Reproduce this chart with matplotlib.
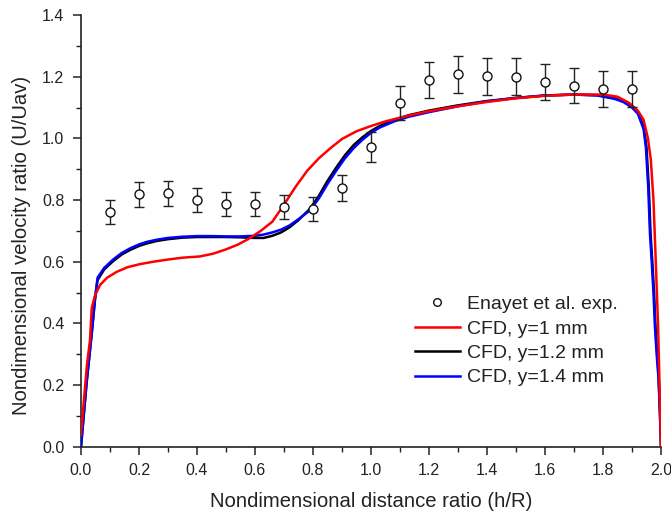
import matplotlib
matplotlib.use("Agg")
import matplotlib.pyplot as plt
from matplotlib.lines import Line2D
from matplotlib.ticker import MultipleLocator, FormatStrFormatter

plt.rcParams["font.family"] = ["Liberation Sans", "DejaVu Sans"]

# Experimental data (Enayet et al.)
exp_x = [0.1, 0.2, 0.3, 0.4, 0.5, 0.6, 0.7, 0.8, 0.9, 1.0,
         1.1, 1.2, 1.3, 1.4, 1.5, 1.6, 1.7, 1.8, 1.9]
exp_y = [0.761, 0.818, 0.822, 0.800, 0.786, 0.786, 0.776, 0.770, 0.840, 0.972,
         1.115, 1.190, 1.208, 1.202, 1.199, 1.183, 1.171, 1.160, 1.159]
exp_err = [0.038, 0.041, 0.041, 0.040, 0.039, 0.039, 0.039, 0.039, 0.042, 0.049,
           0.056, 0.059, 0.060, 0.060, 0.060, 0.059, 0.058, 0.058, 0.058]

# CFD, y = 1 mm
cfd1_x = [0.0, 0.01, 0.02, 0.031, 0.037, 0.048, 0.066, 0.09, 0.123, 0.16,
          0.203, 0.25, 0.3, 0.35, 0.41, 0.456, 0.5, 0.54, 0.58, 0.62,
          0.66, 0.7, 0.74, 0.78, 0.82, 0.86, 0.9, 0.95, 1.0, 1.05,
          1.1, 1.15, 1.2, 1.3, 1.4, 1.5, 1.6, 1.7, 1.8, 1.85,
          1.89, 1.92, 1.94, 1.955, 1.965, 1.974, 1.982, 1.99, 1.995, 2.0]
cfd1_y = [0.04, 0.15, 0.26, 0.346, 0.449, 0.490, 0.525, 0.548, 0.567, 0.582,
          0.592, 0.600, 0.607, 0.613, 0.617, 0.626, 0.640, 0.655, 0.675, 0.700,
          0.730, 0.785, 0.843, 0.895, 0.935, 0.968, 0.998, 1.023, 1.040, 1.055,
          1.067, 1.078, 1.088, 1.104, 1.118, 1.130, 1.138, 1.142, 1.142, 1.135,
          1.115, 1.090, 1.060, 1.000, 0.930, 0.800, 0.600, 0.389, 0.200, 0.0]

# CFD, y = 1.2 mm
cfd12_x = [0.0, 0.019, 0.037, 0.048, 0.057, 0.08, 0.111, 0.14, 0.169, 0.2,
           0.226, 0.26, 0.3, 0.35, 0.4, 0.45, 0.5, 0.55, 0.6, 0.63,
           0.66, 0.69, 0.72, 0.75, 0.79, 0.82, 0.85, 0.88, 0.91, 0.94,
           0.97, 1.0, 1.03, 1.08, 1.13, 1.2, 1.3, 1.4, 1.5, 1.6,
           1.7, 1.78, 1.84, 1.87, 1.9, 1.92, 1.94, 1.95, 1.958, 1.964,
           1.97, 1.976, 1.981, 1.987, 1.992, 1.996, 2.0]
cfd12_y = [0.0, 0.205, 0.368, 0.476, 0.540, 0.575, 0.602, 0.623, 0.638, 0.651,
           0.659, 0.667, 0.673, 0.678, 0.680, 0.680, 0.680, 0.679, 0.677, 0.677,
           0.684, 0.695, 0.712, 0.735, 0.772, 0.813, 0.862, 0.905, 0.945, 0.978,
           1.003, 1.024, 1.040, 1.060, 1.075, 1.090, 1.107, 1.121, 1.131, 1.139,
           1.142, 1.140, 1.130, 1.120, 1.105, 1.085, 1.040, 0.970, 0.840, 0.690,
           0.600, 0.500, 0.390, 0.300, 0.227, 0.120, 0.0]

# CFD, y = 1.4 mm
cfd14_x = [0.0, 0.019, 0.037, 0.048, 0.057, 0.08, 0.111, 0.14, 0.169, 0.2,
           0.226, 0.26, 0.3, 0.35, 0.4, 0.45, 0.5, 0.55, 0.6, 0.63,
           0.66, 0.69, 0.72, 0.75, 0.79, 0.82, 0.85, 0.88, 0.91, 0.94,
           0.97, 1.0, 1.03, 1.08, 1.13, 1.2, 1.3, 1.4, 1.5, 1.6,
           1.7, 1.78, 1.84, 1.87, 1.9, 1.92, 1.94, 1.948, 1.956, 1.962,
           1.968, 1.974, 1.979, 1.985, 1.991, 1.996, 2.0]
cfd14_y = [0.0, 0.205, 0.368, 0.476, 0.548, 0.580, 0.607, 0.628, 0.643, 0.656,
           0.664, 0.671, 0.677, 0.681, 0.683, 0.683, 0.682, 0.682, 0.684, 0.688,
           0.695, 0.704, 0.718, 0.738, 0.767, 0.805, 0.852, 0.895, 0.935, 0.968,
           0.995, 1.018, 1.035, 1.055, 1.070, 1.085, 1.104, 1.120, 1.131, 1.139,
           1.142, 1.139, 1.128, 1.118, 1.100, 1.080, 1.030, 0.970, 0.840, 0.690,
           0.600, 0.500, 0.390, 0.300, 0.227, 0.120, 0.0]

x_ticks = [0.0, 0.2, 0.4, 0.6, 0.8, 1.0, 1.2, 1.4, 1.6, 1.8, 2.0]
y_ticks = [0.0, 0.2, 0.4, 0.6, 0.8, 1.0, 1.2, 1.4]

legend_labels = ["Enayet et al. exp.", "CFD, y=1 mm", "CFD, y=1.2 mm", "CFD, y=1.4 mm"]

text_color = "#222222"

fig = plt.figure(figsize=(6.71, 5.14), dpi=100)
ax = fig.add_axes([81 / 671, 1 - 446.7 / 514, 580 / 671, 431.7 / 514])

lw = 1.8
ax.plot(cfd12_x, cfd12_y, color="#000000", lw=lw, zorder=2)
ax.plot(cfd14_x, cfd14_y, color="#0000ff", lw=lw, zorder=3)
ax.plot(cfd1_x, cfd1_y, color="#ff0000", lw=lw, zorder=4)

ax.errorbar(exp_x, exp_y, yerr=exp_err, fmt="o", ms=6.5, mfc="white",
            mec="#111111", mew=1.0, ecolor="#222222", elinewidth=1.0,
            capsize=3.3, capthick=1.0, zorder=5)

ax.set_xlim(0, 2.0)
ax.set_ylim(0, 1.4)
ax.set_xticks(x_ticks)
ax.set_yticks(y_ticks)
ax.xaxis.set_major_formatter(FormatStrFormatter("%.1f"))
ax.yaxis.set_major_formatter(FormatStrFormatter("%.1f"))
ax.xaxis.set_minor_locator(MultipleLocator(0.1))
ax.yaxis.set_minor_locator(MultipleLocator(0.1))

for side in ("top", "right"):
    ax.spines[side].set_visible(False)
for side in ("left", "bottom"):
    ax.spines[side].set_linewidth(1.2)
    ax.spines[side].set_color("#222222")

ax.tick_params(which="major", direction="out", length=6, width=1.1,
               color="#222222", labelsize=11.5, labelcolor=text_color, pad=6)
ax.tick_params(which="minor", direction="out", length=3.5, width=1.0,
               color="#222222")

ax.set_xlabel("Nondimensional distance ratio (h/R)", fontsize=14.6,
              color=text_color, labelpad=10)
ax.set_ylabel("Nondimensional velocity ratio (U/Uav)", fontsize=14.6,
              color=text_color)
ax.yaxis.set_label_coords(-0.086, 0.467)

handles = [
    Line2D([], [], ls="none", marker="o", ms=5.5, mfc="white", mec="#111111", mew=1.0),
    Line2D([], [], color="#ff0000", lw=lw),
    Line2D([], [], color="#000000", lw=lw),
    Line2D([], [], color="#0000ff", lw=lw),
]
fig.legend(handles, legend_labels, loc="upper left",
           bbox_to_anchor=(415 / 671, 1 - 295.5 / 514),
           bbox_transform=fig.transFigure, frameon=False, fontsize=14,
           handlelength=2.3, handletextpad=0.36, labelspacing=0.35,
           borderpad=0, borderaxespad=0, labelcolor=text_color)

fig.savefig("out.png", dpi=100)
